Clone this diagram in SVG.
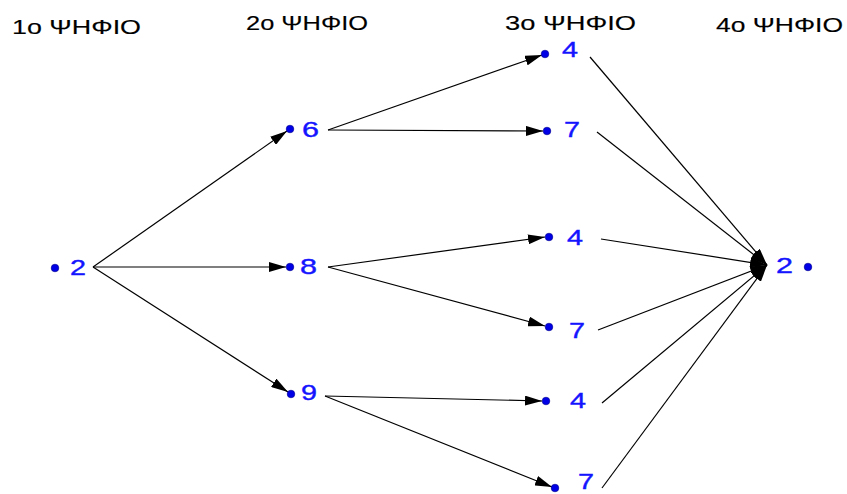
<svg xmlns="http://www.w3.org/2000/svg" width="847" height="494" viewBox="0 0 847 494">
<style>
.hdr{font-family:"Liberation Sans",Arial,sans-serif;font-size:20px;fill:#000;stroke:#000;stroke-width:0.15}
.lbl{font-family:"Liberation Sans",Arial,sans-serif;font-size:22px;fill:#1414ff;stroke:#1414ff;stroke-width:0.4}
.dot{fill:#0000e6;stroke:#00008b;stroke-width:0.6}
.edge{stroke:#000;stroke-width:1.2;fill:none;marker-end:url(#ah)}
</style>
<defs>
<marker id="ah" markerUnits="userSpaceOnUse" markerWidth="17" markerHeight="10" refX="17" refY="5" orient="auto">
<path d="M0,0 L17,5 L0,10 Z" fill="#000"/>
</marker>
</defs>
<rect width="847" height="494" fill="#fff"/>
<g id="headers">
<text class="hdr" x="12" y="34" textLength="129" lengthAdjust="spacingAndGlyphs">1ο ΨΗΦΙΟ</text>
<text class="hdr" x="246" y="30" textLength="122" lengthAdjust="spacingAndGlyphs">2ο ΨΗΦΙΟ</text>
<text class="hdr" x="505" y="30" textLength="131" lengthAdjust="spacingAndGlyphs">3ο ΨΗΦΙΟ</text>
<text class="hdr" x="716" y="32" textLength="127" lengthAdjust="spacingAndGlyphs">4ο ΨΗΦΙΟ</text>
</g>
<g id="connectors">
<line class="edge" x1="93" y1="267" x2="287" y2="131"/>
<line class="edge" x1="93" y1="267" x2="286" y2="267"/>
<line class="edge" x1="93" y1="267" x2="288" y2="392"/>
<line class="edge" x1="328" y1="130" x2="542" y2="55"/>
<line class="edge" x1="328" y1="130" x2="543" y2="131"/>
<line class="edge" x1="328" y1="267" x2="545" y2="237"/>
<line class="edge" x1="328" y1="267" x2="545" y2="326"/>
<line class="edge" x1="325" y1="396" x2="542" y2="401"/>
<line class="edge" x1="325" y1="396" x2="552" y2="487"/>
<line class="edge" x1="590" y1="57" x2="767" y2="265"/>
<line class="edge" x1="597" y1="132" x2="767" y2="265"/>
<line class="edge" x1="601" y1="239" x2="767" y2="265"/>
<line class="edge" x1="598" y1="330" x2="767" y2="265"/>
<line class="edge" x1="602" y1="403" x2="767" y2="265"/>
<line class="edge" x1="602" y1="488" x2="767" y2="265"/>
</g>
<g id="n1"><circle class="dot" cx="55" cy="268" r="3.8"/><text class="lbl" x="70" y="275" textLength="16" lengthAdjust="spacingAndGlyphs">2</text></g>
<g id="n6"><circle class="dot" cx="290" cy="129" r="3.8"/><text class="lbl" x="302" y="137" textLength="17" lengthAdjust="spacingAndGlyphs">6</text></g>
<g id="n8"><circle class="dot" cx="290" cy="267" r="3.8"/><text class="lbl" x="300" y="274" textLength="17" lengthAdjust="spacingAndGlyphs">8</text></g>
<g id="n9"><circle class="dot" cx="291" cy="394" r="3.8"/><text class="lbl" x="301" y="400" textLength="16" lengthAdjust="spacingAndGlyphs">9</text></g>
<g id="n4a"><circle class="dot" cx="545" cy="54" r="3.8"/><text class="lbl" x="562" y="57" textLength="16" lengthAdjust="spacingAndGlyphs">4</text></g>
<g id="n7a"><circle class="dot" cx="547" cy="131" r="3.8"/><text class="lbl" x="564" y="137" textLength="16" lengthAdjust="spacingAndGlyphs">7</text></g>
<g id="n4b"><circle class="dot" cx="549" cy="237" r="3.8"/><text class="lbl" x="567" y="245" textLength="16" lengthAdjust="spacingAndGlyphs">4</text></g>
<g id="n7b"><circle class="dot" cx="549" cy="327" r="3.8"/><text class="lbl" x="569" y="338" textLength="16" lengthAdjust="spacingAndGlyphs">7</text></g>
<g id="n4c"><circle class="dot" cx="546" cy="401" r="3.8"/><text class="lbl" x="570" y="408" textLength="16" lengthAdjust="spacingAndGlyphs">4</text></g>
<g id="n7c"><circle class="dot" cx="555" cy="488" r="3.8"/><text class="lbl" x="578" y="489" textLength="16" lengthAdjust="spacingAndGlyphs">7</text></g>
<g id="n2r"><circle class="dot" cx="808" cy="267" r="3.8"/><text class="lbl" x="776" y="273" textLength="17" lengthAdjust="spacingAndGlyphs">2</text></g>
</svg>
